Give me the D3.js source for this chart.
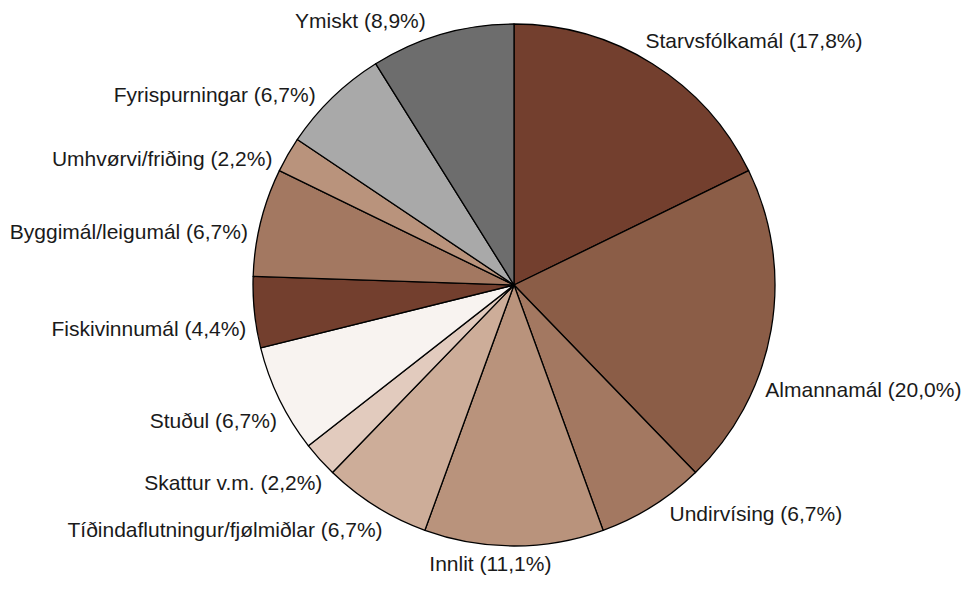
<!DOCTYPE html>
<html>
<head>
<meta charset="utf-8">
<script src="https://cdn.jsdelivr.net/npm/d3@7"></script>
<style>
  body { margin: 0; background: #fff; }
  text { font-family: "Liberation Sans", Arial, sans-serif; }
</style>
</head>
<body>
<div id="chart"></div>
<script>
// categories in drawing order, clockwise from 12 o'clock
const categories = [
    "Starvsfólkamál", "Almannamál", "Undirvísing", "Innlit",
    "Tíðindaflutningur/fjølmiðlar", "Skattur v.m.", "Stuðul", "Fiskivinnumál",
    "Byggimál/leigumál", "Umhvørvi/friðing", "Fyrispurningar", "Ymiskt"
];
// share in percent, as printed on the labels
const shares = [17.8, 20.0, 6.7, 11.1, 6.7, 2.2, 6.7, 4.4, 6.7, 2.2, 6.7, 8.9];
const colors = [
    "#733f2e", "#8b5d47", "#a37861", "#b9937c",
    "#cdad99", "#e2cbbe", "#f8f3f0", "#733f2e",
    "#a37861", "#b9937c", "#a9a9a9", "#6d6d6d"
];

const width = 970;
const height = 591;
const cx = 514, cy = 285, radius = 261;
const fontSize = 21;

// hand tweaks for the label angles (degrees)
const labelShift = -3;
const labelNudge = {"Almannamál": 15, "Innlit": 8};

const data = categories.map((c, i) => ({name: c, value: shares[i], color: colors[i]}));

const comma = d3.formatLocale({decimal: ",", thousands: ".", grouping: [3], currency: ["", ""]});
const fmt = comma.format(".1f");

const svg = d3.select("#chart")
    .append("svg")
    .attr("width", width)
    .attr("height", height)
    .attr("viewBox", [0, 0, width, height]);

const g = svg.append("g")
    .attr("transform", `translate(${cx}, ${cy})`);

const pie = d3.pie()
    .sort(null)
    .value(d => d.value);
const arcs = pie(data);

const arc = d3.arc()
    .innerRadius(0)
    .outerRadius(radius);

g.selectAll("path")
    .data(arcs)
    .join("path")
    .attr("d", arc)
    .attr("fill", d => d.data.color)
    .attr("stroke", "#000")
    .attr("stroke-width", 1.3)
    .attr("stroke-linejoin", "round");

//Labels
const labelR = radius + 10;
g.selectAll("text.label")
    .data(arcs)
    .join("text")
    .attr("class", "label")
    .each(function (d) {
        let a = (d.startAngle + d.endAngle) / 2
            + (labelShift + (labelNudge[d.data.name] || 0)) * Math.PI / 180;
        let s = Math.sin(a), c = Math.cos(a);
        let x = labelR * s;
        let y = -labelR * c - (fontSize * 0.4) * c;
        d3.select(this)
            .attr("x", x)
            .attr("y", y)
            .attr("dy", "0.35em")
            .attr("text-anchor", s > 0.1 ? "start" : (s < -0.1 ? "end" : "middle"));
    })
    .style("font-size", fontSize + "px")
    .attr("fill", "#1a1a1a")
    .text(d => `${d.data.name} (${fmt(d.data.value)}%)`);
</script>
</body>
</html>
